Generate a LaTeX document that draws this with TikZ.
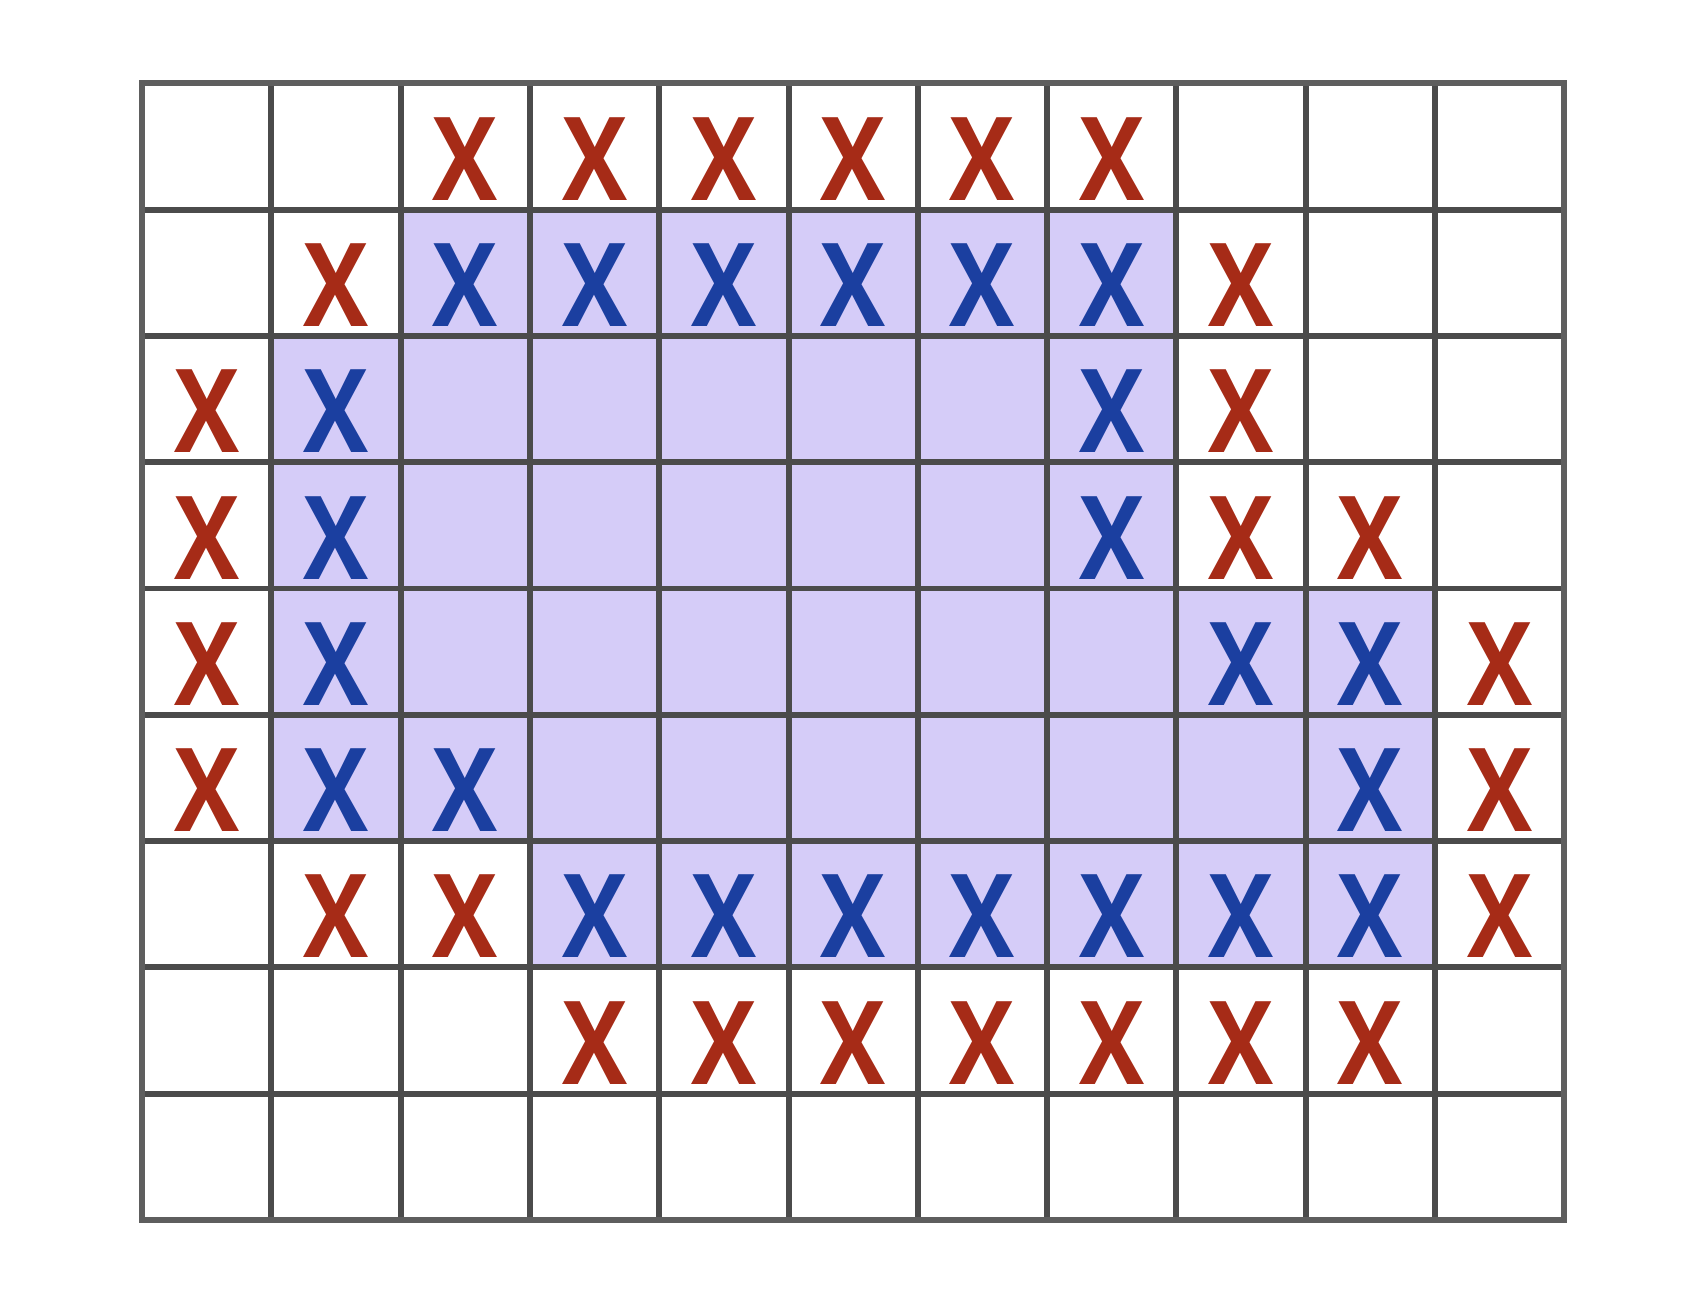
\documentclass[tikz,border=0pt]{standalone}
\usepackage{fontspec}
\newfontfamily\markfont{Open Sans}
\usetikzlibrary{positioning}
\definecolor{markRed}{HTML}{A62B17}
\definecolor{markBlue}{HTML}{1B3FA0}
\definecolor{regionFill}{HTML}{D5CCF8}
\definecolor{gridDark}{HTML}{4B4B4B}
\definecolor{gridFrame}{HTML}{5E5E5E}
\newcommand{\cellX}{\scalebox{0.84}[1]{X}}
\begin{document}
\begin{tikzpicture}[
    x=1.293cm, y=1.263cm,
    region/.style={fill=regionFill, draw=none},
    gridLine/.style={draw=gridDark, line width=1.7pt},
    frame/.style={draw=gridFrame, line width=1.8pt},
    markText/.style={anchor=base, inner sep=0pt, font=\markfont\bfseries\fontsize{33}{33}\selectfont},
    outerX/.style={markText, text=markRed},
    innerX/.style={markText, text=markBlue},
]
\useasboundingbox (-1.42cm,-0.78cm) rectangle (15.62cm,12.20cm);
% filled region
\fill[region] (2,8) -- (8,8) -- (8,5) -- (10,5) -- (10,2) -- (3,2) -- (3,3)
    -- (1,3) -- (1,7) -- (2,7) -- cycle;
% grid
\foreach \i in {1,...,10} \draw[gridLine] (\i,0) -- (\i,9);
\foreach \j in {1,...,8} \draw[gridLine] (0,\j) -- (11,\j);
\draw[frame] (0,0) rectangle (11,9);
% red marks (column/row from bottom)
\foreach \c/\r in {2/8,3/8,4/8,5/8,6/8,7/8, 1/7,8/7, 0/6,8/6, 0/5,8/5,9/5,
                   0/4,10/4, 0/3,10/3, 1/2,2/2,10/2, 3/1,4/1,5/1,6/1,7/1,8/1,9/1}
    \node[outerX] (red-\c-\r) at ([yshift=0.095cm]\c+0.5,\r) {\cellX};
% blue marks
\foreach \c/\r in {2/7,3/7,4/7,5/7,6/7,7/7, 1/6,7/6, 1/5,7/5, 1/4,8/4,9/4,
                   1/3,2/3,9/3, 3/2,4/2,5/2,6/2,7/2,8/2,9/2}
    \node[innerX] (blue-\c-\r) at ([yshift=0.095cm]\c+0.5,\r) {\cellX};
\end{tikzpicture}
\end{document}
